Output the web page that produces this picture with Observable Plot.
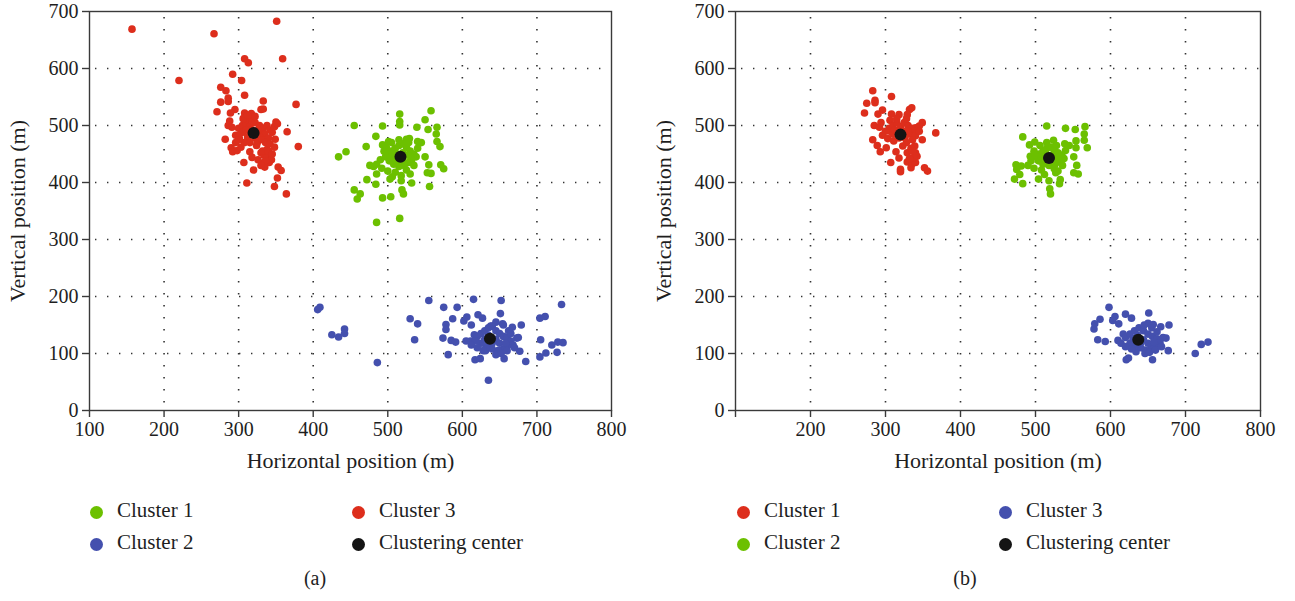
<!DOCTYPE html>
<html>
<head>
<meta charset="utf-8">
<script src="https://cdn.jsdelivr.net/npm/d3@7"></script>
<script src="https://cdn.jsdelivr.net/npm/@observablehq/plot@0.6"></script>
<style>
  html, body { margin: 0; padding: 0; background: #fff; }
  #wrap { position: relative; width: 1295px; height: 601px; font-family: "Liberation Serif", "DejaVu Serif", serif; color: #1e1e1e; }
  .panel { position: absolute; top: 0; }
  .leg { position: absolute; font-size: 21px; line-height: 1; white-space: nowrap; }
  .sw { position: absolute; width: 13px; height: 13px; border-radius: 50%; }
  .cap { position: absolute; font-size: 20px; transform: translateX(-50%); }
</style>
</head>
<body>
<div id="wrap"></div>
<script>
// ---------- data ----------
const xTicks = [100, 200, 300, 400, 500, 600, 700, 800];
const yTicks = [0, 100, 200, 300, 400, 500, 600, 700];
const xGrid = [200, 300, 400, 500, 600, 700];
const yGrid = [100, 200, 300, 400, 500, 600];

const colRed = "#dd2e1c", colGreen = "#6cc000", colBlue = "#4450ae", colCenter = "#141414";

// Panel (a)
const aCluster3 = [ // red
  [157,669],[351,683],[267,661],[308,617],[313,610],[359,617],[220,579],[292,590],[304,579],[276,567],
  [283,561],[308,553],[286,548],[286,542],[276,541],[333,543],[377,537],[271,524],[295,528],[289,522],
  [308,522],[317,521],[330,528],[333,529],[288,508],[286,500],[291,497],[308,504],[311,510],[350,506],
  [365,489],[380,463],[282,476],[296,483],[301,477],[290,461],[292,454],[298,456],[303,462],[315,454],
  [318,444],[307,435],[324,465],[330,452],[334,448],[338,458],[333,434],[341,435],[320,422],[335,427],
  [353,427],[357,421],[352,408],[311,399],[348,393],[364,380],[349,476],[327,487],
  [300,495],[305,500],[310,505],[315,498],[318,510],[322,505],[328,500],[333,495],[338,500],[342,492],
  [345,488],[335,485],[328,480],[322,478],[312,480],[305,488],[300,482],[308,470],[315,470],[325,470],
  [332,475],[340,478],[348,498],[352,503],[310,492],[318,492],[326,492],[336,470],[342,468],[338,445],
  [344,440],[336,438],[330,430],[326,440],[332,455],[340,455],[345,450],[348,462],[300,475],[296,470],
  [306,512],[312,518],[322,516],[316,485]
];
const aCluster1 = [ // green
  [455,500],[516,520],[516,507],[516,501],[493,499],[558,526],[550,510],[539,497],[566,497],[565,485],
  [554,493],[566,472],[570,463],[540,472],[525,476],[484,481],[501,472],[493,466],[471,463],[444,454],
  [434,445],[476,430],[481,428],[485,415],[472,405],[484,397],[503,406],[518,403],[532,399],[550,445],
  [555,431],[553,417],[558,416],[571,431],[575,424],[556,393],[455,387],[463,380],[459,371],[493,373],
  [504,375],[519,387],[521,380],[485,330],[516,337],[529,477],
  [500,450],[505,455],[510,460],[515,465],[520,468],[525,462],[530,455],[535,450],[538,445],[532,440],
  [528,435],[522,430],[515,428],[508,432],[502,438],[497,445],[505,445],[512,450],[520,452],[527,448],
  [512,438],[520,440],[495,455],[490,440],[485,432],[492,425],[500,420],[510,418],[525,422],[535,430],
  [540,460],[545,470],[528,470],[505,470],[498,462],[515,475],[530,415],[518,412],[506,410]
];
const aCluster2 = [ // blue
  [406,177],[409,181],[425,133],[434,129],[442,143],[442,135],[486,84],[530,161],[540,152],[536,124],
  [555,193],[575,181],[578,151],[578,142],[587,161],[593,181],[574,127],[585,123],[591,120],[581,98],
  [615,195],[602,157],[606,164],[612,150],[621,168],[627,162],[652,193],[651,170],[667,146],[679,150],
  [611,122],[616,133],[617,89],[624,91],[631,105],[656,91],[685,86],[635,53],[677,104],[673,127],
  [704,162],[711,165],[733,186],[705,124],[704,94],[712,101],[720,115],[728,120],[735,119],[727,102],
  [654,152],[638,148],
  [620,130],[625,135],[630,140],[635,145],[640,148],[645,140],[650,135],[655,130],[660,128],[665,122],
  [668,115],[660,112],[655,108],[648,105],[640,108],[632,112],[625,118],[618,122],[630,125],[645,125],
  [650,118],[640,118],[635,132],[628,105],[645,98],[652,100],[660,105],[670,110],[675,128],[662,140],
  [655,150],[645,155],[612,115],[605,122],[620,110],[658,118],[665,135]
];
const aCenters = [[320,487],[517,445],[637,126]];

// Panel (b)
const bCluster1 = [ // red
  [283,561],[308,551],[275,539],[286,544],[286,540],[272,522],[290,520],[296,527],[308,520],[318,519],
  [332,528],[335,531],[329,519],[285,500],[292,497],[294,505],[306,509],[349,505],[367,487],[283,475],
  [296,483],[303,477],[289,465],[293,454],[301,461],[311,473],[314,454],[318,443],[307,435],[323,464],
  [339,464],[329,452],[340,452],[329,436],[335,432],[340,435],[320,423],[320,419],[334,426],[352,426],
  [356,420],[349,475],[340,496],[345,499],
  [305,495],[310,500],[315,505],[320,498],[325,505],[330,500],[335,495],[338,490],[332,485],[326,478],
  [318,478],[310,485],[306,490],[312,492],[324,490],[330,490],[340,482],[336,475],[328,470],[334,460],
  [338,444],[332,442],[342,446],[336,455],[300,490],[315,512],[328,512],[345,490]
];
const bCluster2 = [ // green
  [515,499],[540,495],[553,493],[566,498],[565,485],[565,474],[569,461],[554,473],[554,461],[483,480],
  [492,466],[499,471],[524,474],[539,468],[493,446],[474,431],[481,429],[475,423],[479,414],[472,406],
  [483,398],[504,406],[518,403],[532,398],[533,405],[519,389],[520,380],[551,445],[555,430],[551,417],
  [557,415],[527,417],
  [505,450],[510,455],[515,460],[520,462],[525,458],[530,452],[535,448],[538,442],[532,436],[526,432],
  [518,430],[510,432],[504,438],[500,445],[508,445],[514,450],[522,448],[528,444],[514,438],[520,436],
  [498,455],[494,438],[490,430],[498,425],[508,422],[525,424],[536,430],[540,456],[545,465],[528,465],
  [506,465],[515,470],[530,420],[512,414]
];
const bCluster3 = [ // blue
  [598,181],[586,160],[579,152],[578,143],[606,165],[603,158],[611,152],[620,169],[628,162],[651,171],
  [667,147],[678,150],[650,153],[657,151],[583,124],[593,121],[610,123],[617,134],[621,89],[624,92],
  [634,103],[656,89],[677,105],[674,127],[713,100],[721,116],[730,120],
  [620,128],[626,134],[632,140],[638,145],[644,140],[650,134],[656,130],[662,126],[666,120],[660,114],
  [654,110],[646,106],[640,110],[632,114],[626,118],[630,126],[644,124],[650,118],[640,118],[636,132],
  [628,108],[646,100],[652,102],[660,106],[668,112],[670,128],[662,138],[655,145],[645,150],[614,118],
  [620,112],[658,120]
];
const bCenters = [[320,484],[518,443],[637,124]];

// ---------- drawing ----------
function toObj(arr) { return arr.map(([x, y]) => ({x, y})); }

function panel(groups, centers, hideFirstX) {
  const marks = [
    Plot.ruleX(xGrid, {stroke: "#333", strokeWidth: 1.6, strokeDasharray: "1.4,10.6", strokeDashoffset: -6}),
    Plot.ruleY(yGrid, {stroke: "#333", strokeWidth: 1.6, strokeDasharray: "1.4,10.6", strokeDashoffset: -6}),
    Plot.frame({stroke: "#3a3a3a", strokeWidth: 1.4}),
    Plot.axisX(xTicks, {anchor: "bottom", tickSize: 7, tickPadding: 4, fontSize: 20, fill: "#1e1e1e", stroke: "#3a3a3a", strokeWidth: 1.4,
      tickFormat: d => (hideFirstX && d === 100) ? "" : String(d), label: null}),
    Plot.axisY(yTicks, {anchor: "left", tickSize: 7, tickPadding: 4, fontSize: 20, fill: "#1e1e1e", stroke: "#3a3a3a", strokeWidth: 1.4, label: null}),
    Plot.text(["Horizontal position (m)"], {frameAnchor: "bottom", dy: 57, text: d => d, fontSize: 22, fill: "#1e1e1e"}),
    Plot.text(["Vertical position (m)"], {frameAnchor: "left", dx: -72, rotate: -90, textAnchor: "middle", text: d => d, fontSize: 22, fill: "#1e1e1e"})
  ];
  for (const g of groups) {
    marks.push(Plot.dot(toObj(g.data), {x: "x", y: "y", r: 3.8, fill: g.color, stroke: "none"}));
  }
  marks.push(Plot.dot(toObj(centers), {x: "x", y: "y", r: 6, fill: colCenter, stroke: "none"}));
  return marks;
}

const wrap = document.getElementById("wrap");

function addPlot(left, mLeft, mRight, marks) {
  const p = Plot.plot({
    width: 640, height: 480,
    marginLeft: mLeft, marginRight: mRight, marginTop: 11, marginBottom: 70,
    x: {domain: [100, 800]},
    y: {domain: [0, 700]},
    style: {fontFamily: "'Liberation Serif', 'DejaVu Serif', serif", fontSize: "20px", color: "#1e1e1e", background: "transparent"},
    marks
  });
  const d = document.createElement("div");
  d.className = "panel";
  d.style.left = left + "px";
  d.appendChild(p);
  wrap.appendChild(d);
}

addPlot(0, 89, 29, panel([
  {data: aCluster3, color: colRed},
  {data: aCluster1, color: colGreen},
  {data: aCluster2, color: colBlue}
], aCenters, false));

addPlot(645, 90, 25, panel([
  {data: bCluster1, color: colRed},
  {data: bCluster2, color: colGreen},
  {data: bCluster3, color: colBlue}
], bCenters, true));

// legends
const legendA = [
  {label: "Cluster 1", color: colGreen, x: 96, y: 512},
  {label: "Cluster 2", color: colBlue, x: 96, y: 544},
  {label: "Cluster 3", color: colRed, x: 358, y: 512},
  {label: "Clustering center", color: colCenter, x: 358, y: 544}
];
const legendB = [
  {label: "Cluster 1", color: colRed, x: 743, y: 512},
  {label: "Cluster 2", color: colGreen, x: 743, y: 544},
  {label: "Cluster 3", color: colBlue, x: 1005, y: 512},
  {label: "Clustering center", color: colCenter, x: 1005, y: 544}
];
for (const it of [...legendA, ...legendB]) {
  const sw = document.createElement("div");
  sw.className = "sw";
  sw.style.background = it.color;
  sw.style.left = (it.x - 6.5) + "px";
  sw.style.top = (it.y - 6.5) + "px";
  wrap.appendChild(sw);
  const t = document.createElement("div");
  t.className = "leg";
  t.textContent = it.label;
  t.style.left = (it.x + 21) + "px";
  t.style.top = (it.y - 12) + "px";
  wrap.appendChild(t);
}
for (const c of [{t: "(a)", x: 315}, {t: "(b)", x: 965}]) {
  const d = document.createElement("div");
  d.className = "cap";
  d.textContent = c.t;
  d.style.left = c.x + "px";
  d.style.top = "567px";
  wrap.appendChild(d);
}
</script>
</body>
</html>
